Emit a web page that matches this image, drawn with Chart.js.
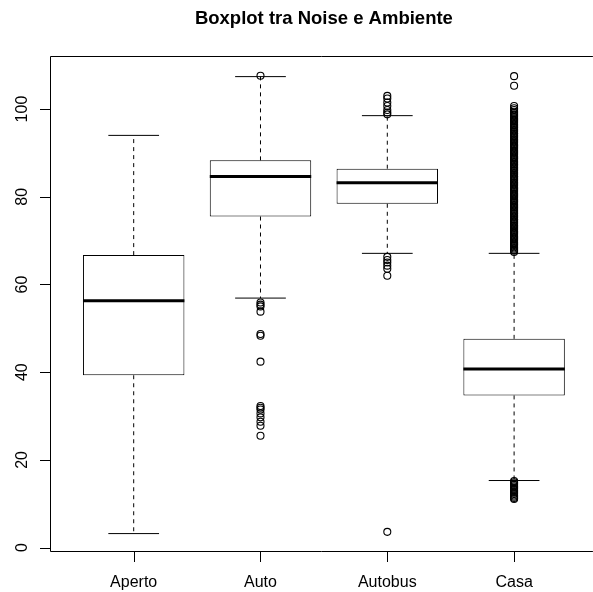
<!DOCTYPE html>
<html>
<head>
<meta charset="utf-8">
<script src="https://cdn.jsdelivr.net/npm/chart.js@4.4.1/dist/chart.umd.min.js"></script>
<style>
  html, body { margin: 0; padding: 0; background: #ffffff; }
  #wrap { width: 593px; height: 592px; }
</style>
</head>
<body>
<div id="wrap"><canvas id="c" width="593" height="592"></canvas></div>
<script>
// ---- data ----
const chartTitle = 'Boxplot tra Noise e Ambiente';
const categories = ['Aperto', 'Auto', 'Autobus', 'Casa'];
const whiskerLow  = [3.2, 56.9, 67.1, 15.3];
const quartile1   = [39.3, 75.5, 78.4, 34.7];
const medians     = [56.3, 84.6, 83.2, 40.7];
const quartile3   = [66.7, 88.3, 86.4, 47.6];
const whiskerHigh = [94.0, 107.4, 98.5, 67.1];
const outliersAperto = [];
const outliersAuto = [107.6, 55.9, 55.4, 55.0, 53.8, 48.7, 48.3, 42.4,
  32.3, 31.9, 31.5, 30.6, 29.7, 28.7, 27.8, 25.5];
const outliersAutobus = [103.0, 102.4, 101.5, 100.7, 99.8, 99.2, 98.8,
  66.3, 65.6, 65.0, 64.3, 63.6, 62.0, 3.6];
const outliersCasa = [107.5, 105.3, 100.7, 100.2, 99.8, 99.4, 99.1, 98.8, 98.5, 98.2,
  97.9, 97.6, 97.4, 97.1, 96.8, 96.5, 96.2, 95.9, 95.7, 95.4, 95.1, 94.8, 94.5, 94.3,
  94.0, 93.7, 93.4, 93.1, 92.9, 92.6, 92.3, 92.0, 91.7, 91.5, 91.2, 90.9, 90.6, 90.3,
  90.1, 89.8, 89.5, 89.2, 88.9, 88.7, 88.4, 88.1, 87.8, 87.5, 87.3, 87.0, 86.7, 86.4,
  86.1, 85.9, 85.6, 85.3, 85.0, 84.7, 84.5, 84.2, 83.9, 83.6, 83.3, 83.1, 82.8, 82.5,
  82.2, 81.9, 81.7, 81.4, 81.1, 80.8, 80.5, 80.3, 80.0, 79.7, 79.4, 79.1, 78.9, 78.6,
  78.3, 78.0, 77.7, 77.5, 77.2, 76.9, 76.6, 76.3, 76.1, 75.8, 75.5, 75.2, 74.9, 74.7,
  74.4, 74.1, 73.8, 73.5, 73.3, 73.0, 72.7, 72.4, 72.1, 71.9, 71.6, 71.3, 71.0, 70.7,
  70.5, 70.2, 69.9, 69.6, 69.3, 69.1, 68.8, 68.5, 68.2, 67.9, 67.7, 67.4,
  15.2, 14.9, 14.6, 14.3, 14.0, 13.7, 13.4, 13.1, 12.8, 12.5, 12.2, 11.9, 11.6, 11.3, 11.1];
const outlierGroups = [outliersAperto, outliersAuto, outliersAutobus, outliersCasa];
const yTicks = [0, 20, 40, 60, 80, 100];

// ---- layout / style constants ----
const X_MIN = 0.34, X_MAX = 4.582, R_XMAX = 4.66;
const Y_MIN = -1.0, Y_MAX = 112.1;
const BOX_HALF = 0.4, STAPLE_HALF = 0.2;
const FONT = '"Liberation Sans", Arial, Helvetica, sans-serif';

// ---- build datasets from the arrays ----
const boxData = categories.map((c, i) => ({ x: i + 1, y: [quartile1[i], quartile3[i]] }));
const medianData = [];
const whiskerData = [];
const stapleData = [];
const outlierData = [];
categories.forEach((c, i) => {
  const p = i + 1;
  medianData.push({ x: p - BOX_HALF, y: medians[i] }, { x: p + BOX_HALF, y: medians[i] }, { x: p + 0.5, y: null });
  whiskerData.push({ x: p, y: quartile3[i] }, { x: p, y: whiskerHigh[i] }, { x: p, y: null },
                   { x: p, y: quartile1[i] }, { x: p, y: whiskerLow[i] }, { x: p, y: null });
  stapleData.push({ x: p - STAPLE_HALF, y: whiskerHigh[i] }, { x: p + STAPLE_HALF, y: whiskerHigh[i] }, { x: p, y: null },
                  { x: p - STAPLE_HALF, y: whiskerLow[i] }, { x: p + STAPLE_HALF, y: whiskerLow[i] }, { x: p, y: null });
  outlierGroups[i].forEach(v => outlierData.push({ x: p, y: v }));
});

// ---- R-style axes, frame and title ----
const rAxes = {
  id: 'rAxes',
  afterDraw(chart) {
    const ctx = chart.ctx;
    const a = chart.chartArea;
    const xs = chart.scales.x, ys = chart.scales.y;
    ctx.save();
    ctx.strokeStyle = '#000';
    ctx.fillStyle = '#000';
    ctx.lineWidth = 1;
    // frame (right side lies outside the picture)
    ctx.beginPath();
    ctx.moveTo(a.right + 5, a.top + 0.5);
    ctx.lineTo(a.left + 0.5, a.top + 0.5);
    ctx.lineTo(a.left + 0.5, a.bottom - 0.5);
    ctx.lineTo(a.right + 5, a.bottom - 0.5);
    ctx.stroke();
    // y axis ticks + rotated labels
    ctx.font = '16px ' + FONT;
    yTicks.forEach(v => {
      const y = Math.round(ys.getPixelForValue(v)) + 0.5;
      ctx.beginPath();
      ctx.moveTo(a.left - 10, y);
      ctx.lineTo(a.left + 0.5, y);
      ctx.stroke();
      ctx.save();
      ctx.translate(a.left - 23.5, ys.getPixelForValue(v));
      ctx.rotate(-Math.PI / 2);
      ctx.textAlign = 'center';
      ctx.textBaseline = 'alphabetic';
      ctx.fillText(String(v), 0, 0);
      ctx.restore();
    });
    // x axis ticks + labels
    categories.forEach((c, i) => {
      const x = Math.round(xs.getPixelForValue(i + 1)) + 0.5;
      ctx.beginPath();
      ctx.moveTo(x, a.bottom - 0.5);
      ctx.lineTo(x, a.bottom + 10);
      ctx.stroke();
      ctx.textAlign = 'center';
      ctx.textBaseline = 'alphabetic';
      ctx.fillText(c, xs.getPixelForValue(i + 1), a.bottom + 34.5);
    });
    // title centred over the full R plot region
    ctx.font = 'bold 18.5px ' + FONT;
    ctx.textAlign = 'center';
    ctx.textBaseline = 'alphabetic';
    const cx = xs.getPixelForValue((X_MIN + R_XMAX) / 2);
    ctx.fillText(chartTitle, cx, 24);
    ctx.restore();
  }
};

new Chart(document.getElementById('c'), {
  type: 'bar',
  data: {
    datasets: [
      { type: 'line', label: 'median', data: medianData, borderColor: '#000', borderWidth: 3,
        pointRadius: 0, spanGaps: false, order: 0, borderCapStyle: 'butt' },
      { type: 'scatter', label: 'outliers', data: outlierData, borderColor: '#000',
        backgroundColor: 'rgba(0,0,0,0)', pointStyle: 'circle', pointRadius: 3.5,
        pointBorderWidth: 1.1, order: 1 },
      { type: 'line', label: 'whiskers', data: whiskerData, borderColor: '#000', borderWidth: 1,
        borderDash: [4, 4], pointRadius: 0, spanGaps: false, order: 2 },
      { type: 'line', label: 'staples', data: stapleData, borderColor: '#000', borderWidth: 1,
        pointRadius: 0, spanGaps: false, order: 2 },
      { type: 'bar', label: 'box', data: boxData, backgroundColor: '#fff', borderColor: '#000',
        borderWidth: 1, borderSkipped: false, barPercentage: 0.8, categoryPercentage: 1.0, order: 3 }
    ]
  },
  options: {
    responsive: false,
    animation: false,
    events: [],
    layout: { padding: { left: 50, top: 56, right: 0, bottom: 40 } },
    scales: {
      x: { type: 'linear', min: X_MIN, max: X_MAX, display: false, offset: false,
           afterBuildTicks: (scale) => { scale.ticks = categories.map((c, i) => ({ value: i + 1 })); } },
      y: { type: 'linear', min: Y_MIN, max: Y_MAX, display: false }
    },
    plugins: { legend: { display: false }, tooltip: { enabled: false }, title: { display: false } }
  },
  plugins: [rAxes]
});
</script>
</body>
</html>
